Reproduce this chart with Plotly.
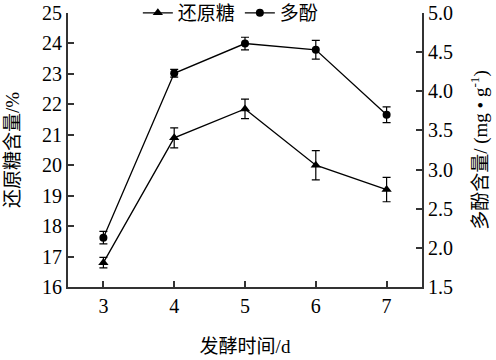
import plotly.graph_objects as go

days = [3, 4, 5, 6, 7]
sugar = [16.8, 20.9, 21.85, 20.0, 19.2]
sugar_err = [0.17, 0.33, 0.32, 0.48, 0.4]
poly = [2.13, 4.23, 4.61, 4.53, 3.70]
poly_err = [0.08, 0.05, 0.08, 0.12, 0.10]

LIANG = "\u91cf"
font_main = '"Liberation Serif", "Noto Sans CJK SC", serif'

fig = go.Figure()
fig.add_trace(go.Scatter(
    x=days, y=sugar, name="还原糖", mode="lines+markers",
    line=dict(color="black", width=1.3),
    marker=dict(symbol="triangle-up", size=9, color="black"),
    error_y=dict(type="data", array=sugar_err, color="black", thickness=1.2, width=4),
    yaxis="y"))
fig.add_trace(go.Scatter(
    x=days, y=poly, name="多酚", mode="lines+markers",
    line=dict(color="black", width=1.3),
    marker=dict(symbol="circle", size=8, color="black"),
    error_y=dict(type="data", array=poly_err, color="black", thickness=1.2, width=4),
    yaxis="y2"))

axis_common = dict(showline=True, linecolor="#333", linewidth=2, ticks="inside",
                   ticklen=6, tickwidth=2, tickcolor="#333", showgrid=False,
                   zeroline=False, tickfont=dict(family=font_main, size=20, color="black"))

fig.update_layout(
    width=496, height=360,
    margin=dict(l=68, r=74, t=13, b=73, autoexpand=False),
    paper_bgcolor="white", plot_bgcolor="white",
    font=dict(family=font_main, color="black"),
    xaxis=dict(range=[2.5, 7.5], tickvals=days, ticktext=[str(d) for d in days],
               title=dict(text="发酵时间/d", font=dict(size=19, family=font_main), standoff=24),
               **axis_common),
    yaxis=dict(range=[16, 25], dtick=1,
               title=dict(text="还原糖含" + LIANG + "/%", font=dict(size=19, family=font_main), standoff=17),
               **axis_common),
    yaxis2=dict(range=[1.5, 5.0], dtick=0.5, tickformat=".1f", overlaying="y", side="right",
                title=dict(text="多酚含" + LIANG + "/ (mg • g<sup>-1</sup>)", font=dict(size=19, family=font_main), standoff=22),
                **axis_common),
    showlegend=True,
    legend=dict(orientation="h", x=0.46, xanchor="center", y=1.0, yanchor="middle",
                bgcolor="rgba(0,0,0,0)", font=dict(size=19, family=font_main),
                itemwidth=30, tracegroupgap=0),
)

fig.write_html("out.html")
